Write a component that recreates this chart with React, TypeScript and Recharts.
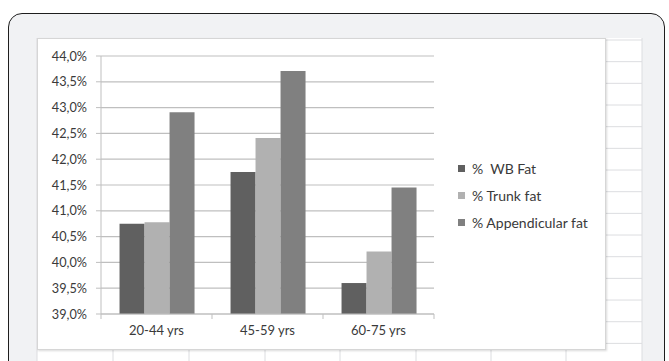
import React from 'react';
import { BarChart, Bar, XAxis, YAxis, CartesianGrid, Legend } from 'recharts';

const categories = ['20-44 yrs', '45-59 yrs', '60-75 yrs'];
const wbFat = [40.75, 41.75, 39.6];
const trunkFat = [40.78, 42.41, 40.21];
const appendicularFat = [42.91, 43.71, 41.45];
const yTicks = [39, 39.5, 40, 40.5, 41, 41.5, 42, 42.5, 43, 43.5, 44];
const seriesNames = ['%  WB Fat', '% Trunk fat', '% Appendicular fat'];
const seriesKeys = ['wb', 'trunk', 'app'];
const seriesColors = ['#606060', '#b1b1b1', '#808080'];

const data = categories.map((c, i) => ({
  name: c,
  wb: wbFat[i],
  trunk: trunkFat[i],
  app: appendicularFat[i],
}));

const FONT = 'Lato, "Open Sans", sans-serif';
const TEXT = '#3a3a3a';
const GRID = '#bfbfbf';

const fmt = (v: number) => v.toFixed(1).replace('.', ',') + '%';

const XTick = (props: any) => {
  const { x, y, payload, index, visibleTicksCount } = props;
  const half = payload && typeof payload.offset === 'number' ? payload.offset : null;
  const last = index === (visibleTicksCount ?? categories.length) - 1;
  return (
    <g>
      {half !== null && <line x1={x - half} y1={y} x2={x - half} y2={y + 5} stroke={GRID} />}
      {half !== null && last && <line x1={x + half} y1={y} x2={x + half} y2={y + 5} stroke={GRID} />}
      <text x={x} y={y + 16} textAnchor="middle" dominantBaseline="central" fill={TEXT} fontSize={13} fontFamily={FONT}>
        {payload.value}
      </text>
    </g>
  );
};

const LegendContent = () => (
  <div style={{ fontFamily: FONT, fontSize: 14, color: TEXT }}>
    {seriesNames.map((n, i) => (
      <div key={n} style={{ height: 27, display: 'flex', alignItems: 'center' }}>
        <span style={{ display: 'inline-block', width: 7, height: 7, background: seriesColors[i], marginRight: 7 }} />
        <span style={{ whiteSpace: 'pre' }}>{n}</span>
      </div>
    ))}
  </div>
);

const colXs = [37, 113, 189, 265, 340, 416, 491, 566, 642];
const rowYs = Array.from({ length: 15 }, (_, k) => 40 + 21.67 * k);

export default function App() {
  return (
    <div style={{ position: 'absolute', left: 0, top: 0, width: 669, height: 361, overflow: 'hidden', background: '#fff' }}>
      <div
        style={{
          position: 'absolute',
          left: 8,
          top: 13,
          width: 657,
          height: 420,
          border: '1.5px solid #1e1e1e',
          borderRadius: 14,
          background: '#f1f2f4',
          boxSizing: 'border-box',
        }}
      />
      <svg style={{ position: 'absolute', left: 0, top: 0 }} width={669} height={361}>
        <rect x={37} y={38} width={605} height={330} fill="#ffffff" />
        {rowYs.map((y) => (
          <line key={'r' + y} x1={37} x2={642} y1={y} y2={y} stroke="#dcdde0" strokeWidth={1} />
        ))}
        {colXs.map((x) => (
          <line key={'c' + x} x1={x} x2={x} y1={38} y2={361} stroke="#dcdde0" strokeWidth={1} />
        ))}
      </svg>
      <div
        style={{
          position: 'absolute',
          left: 37,
          top: 38,
          width: 569,
          height: 312,
          background: '#fff',
          border: '1px solid #d6d6d6',
          boxSizing: 'border-box',
          boxShadow: '1px 1px 2px rgba(0,0,0,0.15)',
        }}
      >
        <BarChart
          width={567}
          height={310}
          data={data}
          margin={{ top: 17, right: 171, bottom: 0, left: 0 }}
          barCategoryGap="16.7%"
          barGap={0}
        >
          <CartesianGrid horizontal vertical={false} stroke={GRID} strokeWidth={1.2} />
          <YAxis
            domain={[39, 44]}
            ticks={yTicks}
            interval={0}
            width={63}
            tickFormatter={fmt}
            axisLine={{ stroke: GRID }}
            tickLine={{ stroke: GRID }}
            tickSize={5}
            tickMargin={9}
            tick={{ fill: TEXT, fontSize: 12.7, fontFamily: FONT }}
            allowDataOverflow
          />
          <XAxis
            dataKey="name"
            height={35}
            tickSize={0}
            tickMargin={0}
            tickLine={false}
            axisLine={{ stroke: GRID }}
            tick={<XTick />}
            interval={0}
          />
          <Legend
            layout="vertical"
            align="center"
            verticalAlign="middle"
            wrapperStyle={{ left: 420, top: 116, width: 160 }}
            content={<LegendContent />}
          />
          {seriesKeys.map((k, i) => (
            <Bar key={k} dataKey={k} name={seriesNames[i]} fill={seriesColors[i]} isAnimationActive={false} />
          ))}
        </BarChart>
      </div>
    </div>
  );
}
